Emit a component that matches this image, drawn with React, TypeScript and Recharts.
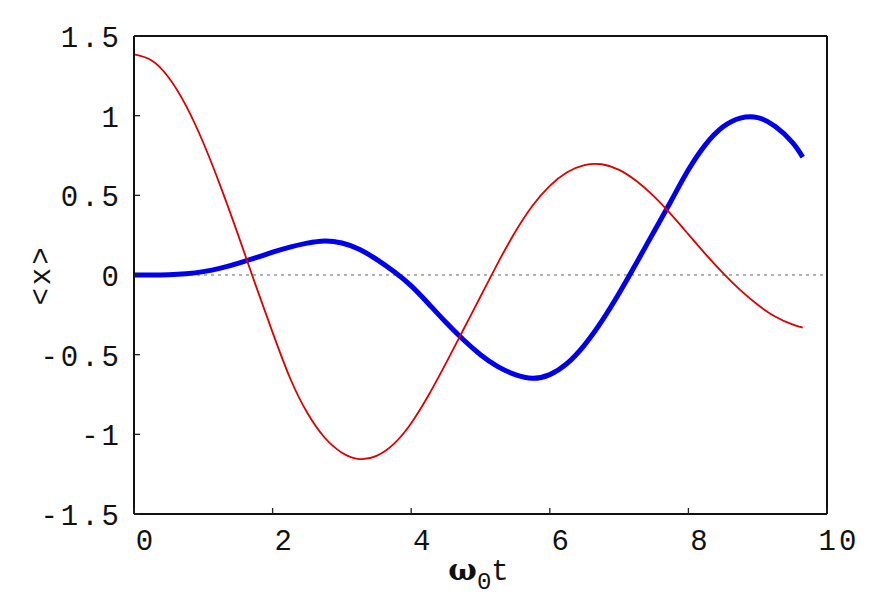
import React from "react";
import { LineChart, Line, XAxis, YAxis, Label } from "recharts";

// ---- data ----
const X_TICKS = [0, 2, 4, 6, 8, 10];
const Y_TICKS = [-1.5, -1, -0.5, 0, 0.5, 1, 1.5];

const redT = [0, 0.25, 0.5, 0.75, 1.0, 1.25, 1.5, 1.75, 2.0, 2.25, 2.5, 2.75, 3.0, 3.25, 3.5, 3.75, 4.0, 4.25, 4.5, 4.75, 5.0, 5.25, 5.5, 5.75, 6.0, 6.25, 6.5, 6.75, 7.0, 7.25, 7.5, 7.75, 8.0, 8.25, 8.5, 8.75, 9.0, 9.25, 9.5, 9.65];
const redX = [1.385, 1.348, 1.24, 1.063, 0.83, 0.555, 0.255, -0.057, -0.36, -0.645, -0.865, -1.02, -1.115, -1.155, -1.135, -1.06, -0.93, -0.755, -0.555, -0.345, -0.135, 0.075, 0.27, 0.435, 0.56, 0.645, 0.69, 0.695, 0.66, 0.59, 0.495, 0.38, 0.255, 0.13, 0.012, -0.095, -0.187, -0.26, -0.31, -0.33];

const blueT = [0, 0.25, 0.5, 0.75, 1.0, 1.25, 1.5, 1.75, 2.0, 2.25, 2.5, 2.75, 3.0, 3.25, 3.5, 3.75, 4.0, 4.25, 4.5, 4.75, 5.0, 5.25, 5.5, 5.75, 6.0, 6.25, 6.5, 6.75, 7.0, 7.25, 7.5, 7.75, 8.0, 8.25, 8.5, 8.75, 9.0, 9.25, 9.5, 9.65];
const blueX = [0, 0, 0.002, 0.008, 0.021, 0.043, 0.073, 0.107, 0.143, 0.175, 0.2, 0.214, 0.201, 0.162, 0.098, 0.022, -0.068, -0.18, -0.297, -0.405, -0.5, -0.575, -0.625, -0.648, -0.625, -0.555, -0.44, -0.29, -0.115, 0.075, 0.27, 0.465, 0.66, 0.82, 0.93, 0.985, 0.988, 0.933, 0.833, 0.74];

const zeroT = [0, 10];
const zeroX = [0, 0];

const redData = redT.map((t, i) => ({ t, v: redX[i] }));
const blueData = blueT.map((t, i) => ({ t, v: blueX[i] }));
const zeroData = zeroT.map((t, i) => ({ t, v: zeroX[i] }));

const FONT = "'Liberation Mono', 'DejaVu Sans Mono', monospace";
const fmt = (v: number) => (v < 0 ? "-" + String(Math.abs(v)) : String(v));

const BottomTick = (props: any) => {
  const { x, y, payload } = props;
  return (
    <g>
      <line x1={x} y1={y} x2={x} y2={y - 6} stroke="#222" strokeWidth={1.3} />
      <text x={x + 12} y={y + 36} textAnchor="middle" fontFamily={FONT} fontSize={29} letterSpacing={3} fill="#111">
        {fmt(payload.value)}
      </text>
    </g>
  );
};

const TopTick = (props: any) => {
  const { x, y } = props;
  return <line x1={x} y1={y} x2={x} y2={y + 6} stroke="#222" strokeWidth={1.3} />;
};

const LeftTick = (props: any) => {
  const { x, y, payload } = props;
  return (
    <g>
      <line x1={x} y1={y} x2={x + 6} y2={y} stroke="#222" strokeWidth={1.3} />
      <text x={x - 12} y={y + 11} textAnchor="end" fontFamily={FONT} fontSize={29} letterSpacing={3} fill="#111">
        {fmt(payload.value)}
      </text>
    </g>
  );
};

const RightTick = (props: any) => {
  const { x, y } = props;
  return <line x1={x} y1={y} x2={x - 6} y2={y} stroke="#222" strokeWidth={1.3} />;
};

const XLabel = (props: any) => {
  const vb = props.viewBox || { x: 134, y: 514, width: 693, height: 30 };
  const cx = vb.x + vb.width / 2 - 2;
  return (
    <text x={cx} y={vb.y + 66} textAnchor="middle" fontFamily={FONT} fontSize={29} fill="#111">
      <tspan fontFamily="'DejaVu Serif', serif" fontWeight="bold" fontSize={30}>ω</tspan>
      <tspan fontSize={24} dy={9}>0</tspan>
      <tspan fontSize={29} dy={-9}>t</tspan>
    </text>
  );
};

const YLabel = (props: any) => {
  const vb = props.viewBox || { x: 74, y: 36, width: 60, height: 478 };
  const cx = vb.x - 24;
  const cy = vb.y + vb.height / 2;
  return (
    <text transform={`translate(${cx},${cy}) rotate(-90)`} textAnchor="middle" fontFamily={FONT} fontSize={29} letterSpacing={3} fill="#111">
      {"<x>"}
    </text>
  );
};

export default function App() {
  return (
    <div style={{ position: "absolute", left: 0, top: 0, width: 880, height: 606, background: "#fff" }}>
      <LineChart width={880} height={606} margin={{ top: 26, right: 43, bottom: 62, left: 74 }}>
        <XAxis
          xAxisId="b"
          dataKey="t"
          type="number"
          domain={[0, 10]}
          ticks={X_TICKS}
          orientation="bottom"
          height={30}
          tickSize={0}
          tickMargin={0}
          tickLine={false}
          axisLine={{ stroke: "#111", strokeWidth: 2 }}
          tick={<BottomTick />}
          interval={0}
          allowDataOverflow
        >
          <Label content={<XLabel />} />
        </XAxis>
        <XAxis
          xAxisId="top"
          dataKey="t"
          type="number"
          domain={[0, 10]}
          ticks={X_TICKS}
          orientation="top"
          height={10}
          tickSize={0}
          tickMargin={0}
          tickLine={false}
          axisLine={{ stroke: "#111", strokeWidth: 2 }}
          tick={<TopTick />}
          interval={0}
        />
        <YAxis
          yAxisId="l"
          type="number"
          domain={[-1.5, 1.5]}
          ticks={Y_TICKS}
          orientation="left"
          width={60}
          tickSize={0}
          tickMargin={0}
          tickLine={false}
          axisLine={{ stroke: "#111", strokeWidth: 2 }}
          tick={<LeftTick />}
          interval={0}
          allowDataOverflow
        >
          <Label content={<YLabel />} />
        </YAxis>
        <YAxis
          yAxisId="r"
          type="number"
          domain={[-1.5, 1.5]}
          ticks={Y_TICKS}
          orientation="right"
          width={10}
          tickSize={0}
          tickMargin={0}
          tickLine={false}
          axisLine={{ stroke: "#111", strokeWidth: 2 }}
          tick={<RightTick />}
          interval={0}
        />
        <Line
          xAxisId="b"
          yAxisId="l"
          data={zeroData}
          dataKey="v"
          type="linear"
          stroke="#666"
          strokeWidth={1.2}
          strokeDasharray="3 4"
          dot={false}
          activeDot={false}
          isAnimationActive={false}
        />
        <Line
          xAxisId="b"
          yAxisId="l"
          data={blueData}
          dataKey="v"
          type="natural"
          stroke="#0000ee"
          strokeWidth={5}
          dot={false}
          activeDot={false}
          isAnimationActive={false}
        />
        <Line
          xAxisId="b"
          yAxisId="l"
          data={redData}
          dataKey="v"
          type="natural"
          stroke="#dd0000"
          strokeWidth={1.8}
          dot={false}
          activeDot={false}
          isAnimationActive={false}
        />
      </LineChart>
    </div>
  );
}
